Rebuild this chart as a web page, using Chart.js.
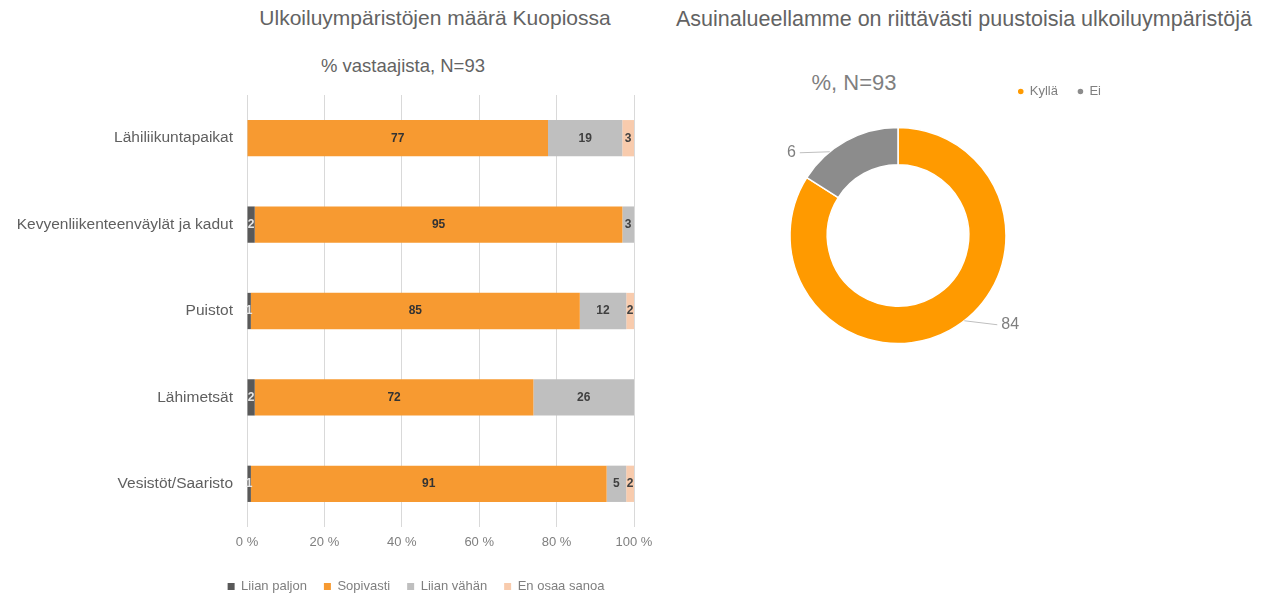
<!DOCTYPE html>
<html><head><meta charset="utf-8">
<script src="https://cdn.jsdelivr.net/npm/chart.js@4.4.1/dist/chart.umd.min.js"></script>
<style>
html,body{margin:0;padding:0;background:#fff;width:1272px;height:594px;overflow:hidden;position:relative;font-family:"Liberation Sans",Arial,sans-serif;}
.t{position:absolute;white-space:nowrap;color:#636363;transform:translateX(-50%);line-height:1;}
canvas{position:absolute;display:block;}
</style></head><body>
<div class="t" style="left:435px;top:7px;font-size:21px;">Ulkoiluympäristöjen määrä Kuopiossa</div>
<div class="t" style="left:403px;top:57px;font-size:18.5px;">% vastaajista, N=93</div>
<div class="t" style="left:964px;top:9px;font-size:21.5px;">Asuinalueellamme on riittävästi puustoisia ulkoiluympäristöjä</div>
<div class="t" style="left:854px;top:72px;font-size:22px;color:#7f7f7f;">%, N=93</div>
<canvas id="c1" width="832" height="603" style="left:0;top:0;"></canvas>
<canvas id="c2" width="446" height="298" style="left:675px;top:65px;"></canvas>
<script>
// ---- Data: left chart ----
const categories = ['Lähiliikuntapaikat','Kevyenliikenteenväylät ja kadut','Puistot','Lähimetsät','Vesistöt/Saaristo'];
const seriesNames = ['Liian paljon','Sopivasti','Liian vähän','En osaa sanoa'];
const liianPaljon = [0, 2, 1, 2, 1];
const sopivasti   = [77, 95, 85, 72, 91];
const liianVahan  = [19, 3, 12, 26, 5];
const enOsaaSanoa = [3, 0, 2, 0, 2];
const xTickValues = [0, 20, 40, 60, 80, 100];

// ---- Data: right chart ----
const donutLabels = ['Kyllä', 'Ei'];
const donutValues = [84, 16];
const donutValueText = ['84', '6'];

const FONT = '"Liberation Sans", Arial, sans-serif';
Chart.defaults.font.family = FONT;

const seriesRaw = [liianPaljon, sopivasti, liianVahan, enOsaaSanoa];
const seriesColors = ['#595959', '#f79a31', '#bfbfbf', '#f8cbad'];
const seriesLabelColors = ['#e6e6e6', '#333333', '#404040', '#404040'];
const totals = categories.map((_, i) => seriesRaw.reduce((s, arr) => s + arr[i], 0));

const barDatasets = seriesNames.map((name, k) => ({
  label: name,
  data: seriesRaw[k].map((v, i) => v / totals[i] * 100),
  rawValues: seriesRaw[k],
  labelColor: seriesLabelColors[k],
  backgroundColor: seriesColors[k],
  borderWidth: 0,
  barPercentage: 0.42,
  categoryPercentage: 1
}));

const barLabelPlugin = {
  id: 'barLabels',
  afterDatasetsDraw(chart) {
    const ctx = chart.ctx;
    chart.data.datasets.forEach((ds, di) => {
      const meta = chart.getDatasetMeta(di);
      meta.data.forEach((bar, i) => {
        const raw = ds.rawValues[i];
        if (!raw) return;
        const p = bar.getProps(['x', 'y', 'base'], true);
        ctx.save();
        ctx.font = 'bold 12px ' + FONT;
        ctx.fillStyle = ds.labelColor;
        ctx.textAlign = 'center';
        ctx.textBaseline = 'middle';
        ctx.fillText(String(raw), (p.x + p.base) / 2, p.y);
        ctx.restore();
      });
    });
  }
};

new Chart(document.getElementById('c1'), {
  type: 'bar',
  data: { labels: categories, datasets: barDatasets },
  options: {
    indexAxis: 'y',
    responsive: false,
    animation: false,
    layout: { padding: { top: 95, left: 0, right: 0, bottom: 0 } },
    scales: {
      x: {
        type: 'linear', stacked: true, min: 0, max: 100,
        afterBuildTicks(s) { s.ticks = xTickValues.map(v => ({ value: v })); },
        ticks: { callback: v => v + ' %', font: { size: 13 }, color: '#7f7f7f', padding: 8 },
        grid: { color: '#d9d9d9', drawTicks: false },
        border: { display: false },
        afterFit(s) { s.height = 36; }
      },
      y: {
        stacked: true,
        grid: { display: false, drawTicks: false },
        border: { display: false },
        ticks: { font: { size: 15.5 }, color: '#5f5f5f', padding: 14 },
        afterFit(s) { s.width = 247; }
      },
      yPad: {
        type: 'category', axis: 'y', position: 'right', labels: [''],
        grid: { display: false, drawTicks: false },
        border: { display: false },
        ticks: { display: false },
        afterFit(s) { s.width = 198; }
      }
    },
    plugins: {
      legend: {
        position: 'bottom',
        labels: { boxWidth: 7, boxHeight: 7, padding: 17, font: { size: 13 }, color: '#7f7f7f' }
      },
      tooltip: { enabled: false },
      title: { display: false }
    }
  },
  plugins: [barLabelPlugin]
});

const donutLeaderPlugin = {
  id: 'donutLeaders',
  afterDatasetsDraw(chart) {
    const ctx = chart.ctx;
    const meta = chart.getDatasetMeta(0);
    const fractions = [0.47, 0.32];
    const lengths = [33, 30];
    meta.data.forEach((arc, i) => {
      const p = arc.getProps(['x', 'y', 'startAngle', 'endAngle', 'outerRadius'], true);
      const a = p.startAngle + (p.endAngle - p.startAngle) * fractions[i];
      const px = p.x + Math.cos(a) * p.outerRadius;
      const py = p.y + Math.sin(a) * p.outerRadius;
      const dir = Math.cos(a) >= 0 ? 1 : -1;
      const ex = px + dir * lengths[i];
      const ey = py + (dir > 0 ? 4 : 1);
      ctx.save();
      ctx.strokeStyle = '#bfbfbf';
      ctx.lineWidth = 1;
      ctx.beginPath();
      ctx.moveTo(px, py);
      ctx.lineTo(ex, ey);
      ctx.stroke();
      ctx.font = '16px ' + FONT;
      ctx.fillStyle = '#7f7f7f';
      ctx.textBaseline = 'middle';
      ctx.textAlign = dir > 0 ? 'left' : 'right';
      ctx.fillText(donutValueText[i], ex + dir * 4, ey);
      ctx.restore();
    });
  }
};

new Chart(document.getElementById('c2'), {
  type: 'doughnut',
  data: {
    labels: donutLabels,
    datasets: [{
      data: donutValues,
      backgroundColor: ['#ff9a00', '#8c8c8c'],
      borderColor: '#ffffff',
      borderWidth: 1.5
    }]
  },
  options: {
    responsive: false,
    animation: false,
    rotation: 0,
    radius: 108,
    cutout: 83,
    layout: { padding: 0 },
    plugins: {
      legend: {
        position: 'top', align: 'end',
        labels: { usePointStyle: true, pointStyle: 'circle', boxWidth: 5, boxHeight: 5, padding: 20, font: { size: 13 }, color: '#7f7f7f' }
      },
      tooltip: { enabled: false }
    }
  },
  plugins: [donutLeaderPlugin]
});
</script>
</body></html>
